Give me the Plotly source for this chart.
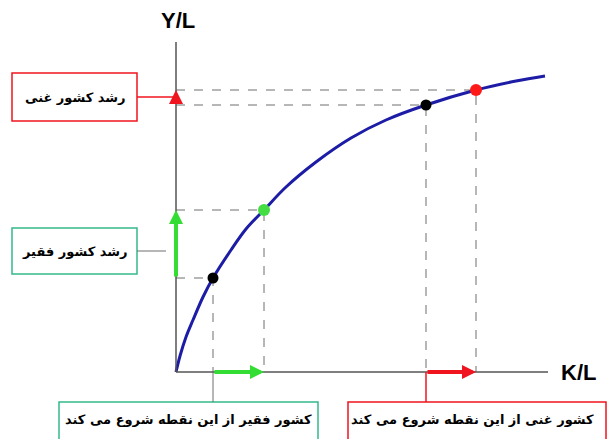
import plotly.graph_objects as go

# production curve y = f(k) (units ~ pixels from origin)
curve_k = [0, 4, 10, 17, 27, 37, 55, 70, 88, 110, 140, 175, 210, 250, 300, 340, 369]
curve_y = [0, 16, 35, 52, 75, 94, 122, 143, 162, 185, 210, 234, 252, 267, 282, 291, 296]

# poor country: start point and next point
poor_k = [37, 88]
poor_y = [94, 162]
# rich country: start point and next point
rich_k = [250, 300]
rich_y = [267, 282]

label_rich_growth = "رشد کشور غنی"
label_poor_growth = "رشد کشور فقیر"
label_poor_start = "کشور فقیر از این نقطه شروع می کند"
label_rich_start = "کشور غنی از این نقطه شروع می کند"

RED = "#f0141e"
GREEN = "#33dd33"
TEAL = "#35b98a"
GREY = "#6e6e6e"
FONT = "DejaVu Sans"

fig = go.Figure()

# dashed guide lines
for k, y in zip(poor_k + rich_k, poor_y + rich_y):
    fig.add_trace(go.Scatter(x=[0, k, k], y=[y, y, 0], mode="lines",
                             line=dict(color=GREY, width=1, dash="dash"),
                             hoverinfo="skip", showlegend=False))

# axes
fig.add_shape(type="line", x0=0, y0=0, x1=0, y1=330, line=dict(color="#555", width=1.5))
fig.add_shape(type="line", x0=0, y0=0, x1=372, y1=0, line=dict(color="#555", width=1.5))

# curve
fig.add_trace(go.Scatter(x=curve_k, y=curve_y, mode="lines", line=dict(color="#1c1ca6", width=3, shape="spline"),
                         hoverinfo="skip", showlegend=False))

# points
fig.add_trace(go.Scatter(x=[poor_k[0], rich_k[0]], y=[poor_y[0], rich_y[0]], mode="markers",
                         marker=dict(color="black", size=11), showlegend=False))
fig.add_trace(go.Scatter(x=[poor_k[1]], y=[poor_y[1]], mode="markers",
                         marker=dict(color="#44dd44", size=12), showlegend=False))
fig.add_trace(go.Scatter(x=[rich_k[1]], y=[rich_y[1]], mode="markers",
                         marker=dict(color="#ff1a1a", size=12), showlegend=False))

# arrows
def arrow(x0, y0, x1, y1, color):
    fig.add_annotation(x=x1, y=y1, ax=x0, ay=y0, xref="x", yref="y", axref="x", ayref="y",
                       showarrow=True, arrowhead=2, arrowsize=0.7, arrowwidth=4, arrowcolor=color, text="")

arrow(0, poor_y[0], 0, poor_y[1], GREEN)
arrow(poor_k[0], 0, poor_k[1], 0, GREEN)
arrow(0, rich_y[0], 0, rich_y[1], RED)
arrow(rich_k[0], 0, rich_k[1], 0, RED)

# label boxes and connectors
fig.add_shape(type="rect", x0=-164, x1=-39, y0=251, y1=299, line=dict(color=RED, width=1.5), fillcolor="white")
fig.add_shape(type="line", x0=-39, x1=0, y0=275, y1=275, line=dict(color=RED, width=1.5))
fig.add_shape(type="rect", x0=-164, x1=-39, y0=98, y1=144, line=dict(color=TEAL, width=1.5), fillcolor="white")
fig.add_shape(type="line", x0=-39, x1=-10, y0=121, y1=121, line=dict(color=GREY, width=1))
fig.add_shape(type="rect", x0=-117, x1=142, y0=-80, y1=-30, line=dict(color=TEAL, width=1.5), fillcolor="white")
fig.add_shape(type="line", x0=poor_k[0], x1=poor_k[0], y0=0, y1=-30, line=dict(color=GREY, width=1))
fig.add_shape(type="rect", x0=172, x1=430, y0=-80, y1=-30, line=dict(color=RED, width=1.5), fillcolor="white")
fig.add_shape(type="line", x0=rich_k[0], x1=rich_k[0], y0=0, y1=-30, line=dict(color=RED, width=1.5))

tf = dict(family=FONT, size=13, color="black")
fig.add_annotation(x=-101, y=275, text="<b>" + label_rich_growth + "</b>", showarrow=False, font=tf)
fig.add_annotation(x=-101, y=121, text="<b>" + label_poor_growth + "</b>", showarrow=False, font=tf)
fig.add_annotation(x=12, y=-47, text="<b>" + label_poor_start + "</b>", showarrow=False, font=tf)
fig.add_annotation(x=296, y=-47, text="<b>" + label_rich_start + "</b>", showarrow=False, font=tf)

# axis titles
af = dict(family="Liberation Sans", size=22, color="black")
fig.add_annotation(x=2, y=352, text="<b>Y/L</b>", showarrow=False, font=af)
fig.add_annotation(x=402, y=0, text="<b>K/L</b>", showarrow=False, font=af)

fig.update_layout(
    width=609, height=439,
    margin=dict(l=0, r=0, t=0, b=0),
    plot_bgcolor="white", paper_bgcolor="white",
    xaxis=dict(range=[-176, 433], visible=False, fixedrange=True),
    yaxis=dict(range=[-67, 372], visible=False, fixedrange=True),
    showlegend=False,
)

fig.write_html("out.html", config={"displayModeBar": False},
               post_script="document.body.style.margin='0';")
